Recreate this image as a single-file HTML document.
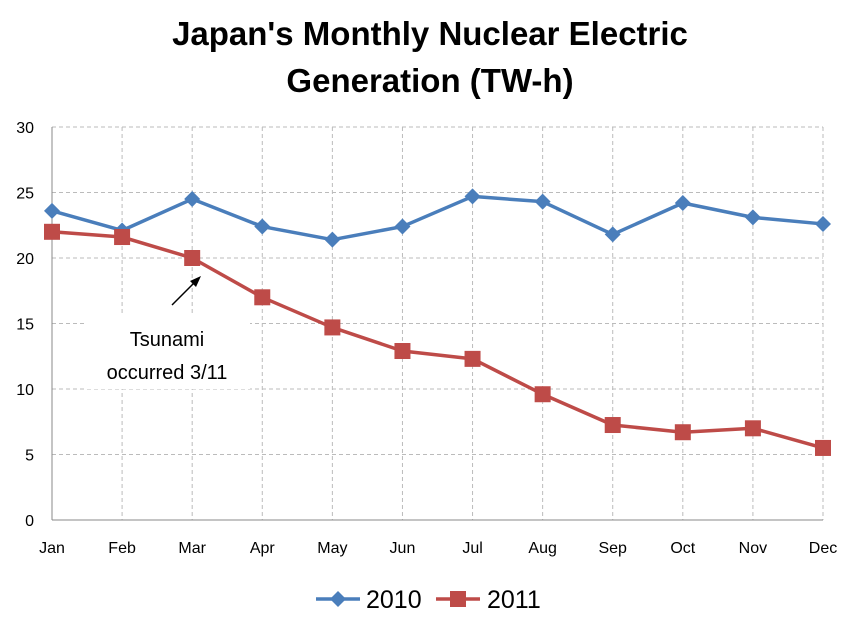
<!DOCTYPE html>
<html><head><meta charset="utf-8"><style>
body{margin:0;background:#fff;}
svg text{font-family:"Liberation Sans",sans-serif;}
</style></head><body>
<svg id="chart" width="856" height="626">
<text x="430" y="45" text-anchor="middle" font-size="33" font-weight="bold">Japan's Monthly Nuclear Electric</text>
<text x="430" y="92" text-anchor="middle" font-size="33" font-weight="bold">Generation (TW-h)</text>
<g id="grid"></g><g id="axes"></g>
<g>
<rect x="86" y="313" width="164" height="76" fill="#fff"/>
<line x1="172" y1="305" x2="196" y2="281" stroke="#000" stroke-width="1.5"/>
<polygon points="201,276 190,281 196,287" fill="#000"/>
<text x="167" y="346" text-anchor="middle" font-size="20">Tsunami</text>
<text x="167" y="379" text-anchor="middle" font-size="20">occurred 3/11</text>
</g>
<g id="series"></g>
<g>
<g>
<line x1="316" y1="599" x2="360" y2="599" stroke="#4a7ebb" stroke-width="3.5"/>
<polygon points="338,591 346,599 338,607 330,599" fill="#4a7ebb"/>
<text x="366" y="608" font-size="25">2010</text></g>
<g>
<line x1="436" y1="599" x2="480" y2="599" stroke="#be4b48" stroke-width="3.5"/>
<rect x="450" y="591" width="16" height="16" fill="#be4b48"/>
<text x="487" y="608" font-size="25">2011</text></g>
</g>
</svg>
<script>
const months=["Jan","Feb","Mar","Apr","May","Jun","Jul","Aug","Sep","Oct","Nov","Dec"];
const values2010=[23.6,22.1,24.5,22.4,21.4,22.4,24.7,24.3,21.8,24.2,23.1,22.6];
const values2011=[22.0,21.6,20.0,17.0,14.7,12.9,12.3,9.6,7.25,6.7,7.0,5.5];
const yTicks=[0,5,10,15,20,25,30];
const NS="http://www.w3.org/2000/svg";
const x0=52,x1=823,y0=520,y1=127;
function xs(i){return x0+i*(x1-x0)/(months.length-1);}
function ys(v){return y0-(v/30)*(y0-y1);}
function mk(tag,attrs,parent){const e=document.createElementNS(NS,tag);for(const k in attrs)e.setAttribute(k,attrs[k]);parent.appendChild(e);return e;}
const grid=document.getElementById('grid'),axes=document.getElementById('axes'),series=document.getElementById('series');
yTicks.forEach(t=>{
  if(t>0){const l=mk('line',{x1:x0,x2:x1,y1:ys(t),y2:ys(t),stroke:'#bbb','stroke-dasharray':'4,3'},grid);
  
  }
  const tx=mk('text',{x:34,y:ys(t)+6,'text-anchor':'end','font-size':'16'},axes);tx.textContent=t;
  
  
});
months.forEach((m,i)=>{
  if(i>0){const l=mk('line',{x1:xs(i),x2:xs(i),y1:y1,y2:y0,stroke:'#bbb','stroke-dasharray':'4,3'},grid);
  
  }
  const tx=mk('text',{x:xs(i),y:553,'text-anchor':'middle','font-size':'16'},axes);tx.textContent=m;
  
  
});
const ya=mk('line',{x1:x0,x2:x0,y1:y1,y2:y0,stroke:'#888'},axes);


const xa=mk('line',{x1:x0,x2:x1,y1:y0,y2:y0,stroke:'#888'},axes);


function draw(vals,color,name,marker){
  const pl=mk('polyline',{points:vals.map((v,i)=>xs(i)+','+ys(v)).join(' '),fill:'none',stroke:color,'stroke-width':3.5,'stroke-linejoin':'round'},series);
  
  
  vals.forEach((v,i)=>{
    const x=xs(i),y=ys(v);let p;
    if(marker==='d')p=mk('polygon',{points:`${x},${y-8} ${x+8},${y} ${x},${y+8} ${x-8},${y}`,fill:color},series);
    else p=mk('rect',{x:x-8,y:y-8,width:16,height:16,fill:color},series);
    
    
  });
}
draw(values2010,'#4a7ebb','2010','d');
draw(values2011,'#be4b48','2011','s');
</script>
</body></html>
